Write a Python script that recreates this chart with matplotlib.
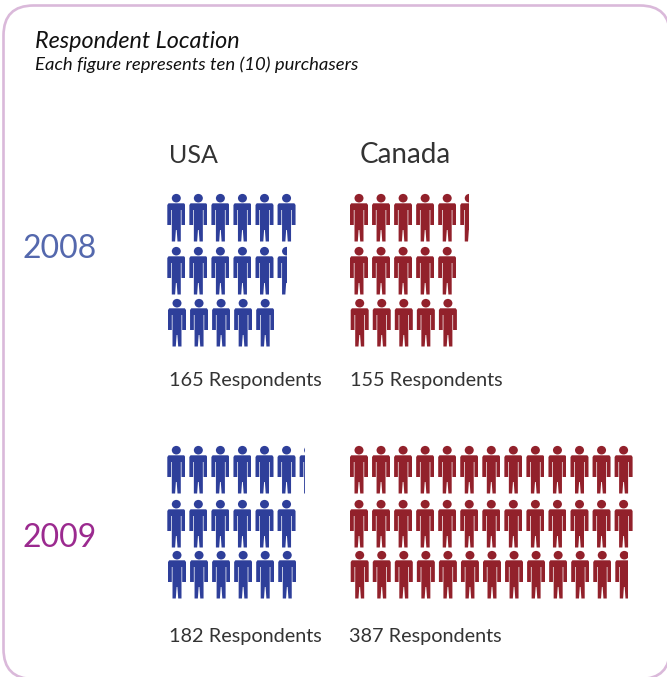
import matplotlib
matplotlib.use("Agg")
import matplotlib.pyplot as plt
from matplotlib.patches import FancyBboxPatch, PathPatch, Rectangle
from matplotlib.path import Path
from matplotlib.transforms import Affine2D

plt.rcParams['font.family'] = ['Lato', 'DejaVu Sans']

# figures per row, one figure = ten purchasers
usa_2008_rows = [6, 5.5, 5]
canada_2008_rows = [5.5, 5, 5]
usa_2009_rows = [6.3, 6, 6]
canada_2009_rows = [13, 13, 12.7]

respondents_2008 = [165, 155]
respondents_2009 = [182, 387]
countries = ["USA", "Canada"]
years = ["2008", "2009"]

BLUE = "#2e3f9a"
RED = "#92212b"

FIG_W = 18
FIG_H = 47.5
STEP = 22.05

# one person, top left at 0,0, y going down
def person_path():
    outline = [(0, 11), (1.2, 9.3), (16.8, 9.3), (18, 11), (18, 31), (14.2, 31), (14.2, 16),
               (13.5, 16), (13.5, 47.5), (10.2, 47.5), (9.4, 36), (8.6, 36), (7.8, 47.5),
               (4.5, 47.5), (4.5, 16), (3.8, 16), (3.8, 31), (0, 31), (0, 11)]
    codes = [Path.MOVETO] + [Path.LINETO] * (len(outline) - 2) + [Path.CLOSEPOLY]
    body = Path(outline, codes)
    head = Path.unit_circle().transformed(Affine2D().scale(4.5, 4.3).translate(9, 4.2))
    return Path.make_compound_path(body, head)

PERSON = person_path()

def draw_rows(ax, rows, x0, row_tops, color):
    for row, top in zip(rows, row_tops):
        x_row = x0 + (0.7 if top == row_tops[2] else 0)
        n = 0
        while n < row:
            frac = min(row - n, 1)
            x = x_row + n * STEP
            p = PathPatch(PERSON.transformed(Affine2D().translate(x, top)),
                          facecolor=color, edgecolor="none", transform=ax.transData)
            ax.add_patch(p)
            # partial figure gets cut off on the right
            clip = Rectangle((x - 1, top - 1), FIG_W * frac + 1, FIG_H + 2, transform=ax.transData)
            p.set_clip_path(clip)
            n += 1

fig = plt.figure(figsize=(6.67, 6.77), dpi=100)
ax = fig.add_axes([0, 0, 1, 1])
ax.set_xlim(0, 667)
ax.set_ylim(677, 0)
ax.axis("off")

# panel border runs off the right and bottom of the picture
ax.add_patch(FancyBboxPatch((3.5, 5.5), 666.5, 673.5, boxstyle="round,pad=0,rounding_size=30",
                            facecolor="white", edgecolor="#dab9da", linewidth=1.9, clip_on=True))

ax.text(35, 48, "Respondent Location", fontsize=16.8, style="italic", color="#111111")
ax.text(35, 70, "Each figure represents ten (10) purchasers", fontsize=13.3, style="italic", color="#111111")

ax.text(169, 163, countries[0], fontsize=18, color="#333333")
ax.text(360, 163, countries[1], fontsize=20, color="#333333")

ax.text(23, 258, years[0], fontsize=23, color="#5468ad")
ax.text(23, 547, years[1], fontsize=23, color="#9b2a8f")

tops_2008 = [194, 247, 299]
tops_2009 = [446, 500, 551]
draw_rows(ax, usa_2008_rows, 167.3, tops_2008, BLUE)
draw_rows(ax, canada_2008_rows, 350, tops_2008, RED)
draw_rows(ax, usa_2009_rows, 167.3, tops_2009, BLUE)
draw_rows(ax, canada_2009_rows, 350, tops_2009, RED)

ax.text(169, 386, f"{respondents_2008[0]} Respondents", fontsize=14.3, color="#333333")
ax.text(350, 386, f"{respondents_2008[1]} Respondents", fontsize=14.3, color="#333333")
ax.text(169, 642, f"{respondents_2009[0]} Respondents", fontsize=14.3, color="#333333")
ax.text(349, 642, f"{respondents_2009[1]} Respondents", fontsize=14.3, color="#333333")

fig.savefig("out.png", dpi=100)
